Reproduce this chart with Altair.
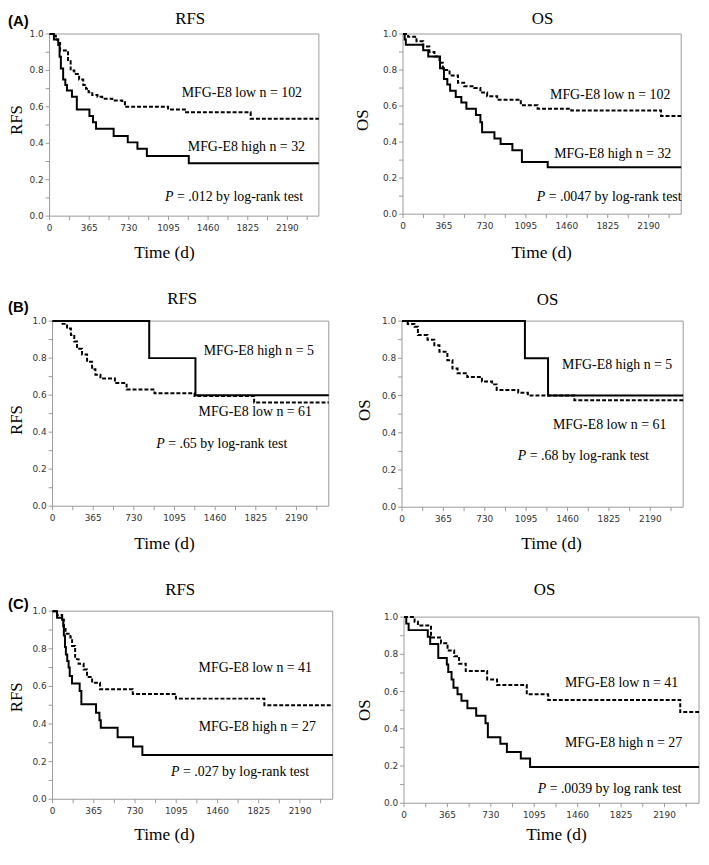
import altair as alt
import pandas as pd

# ---------------- data (day, survival fraction) ----------------
END_DAY = 2480

A_RFS_HIGH_T = [0, 40, 80, 92, 104, 125, 145, 160, 206, 251, 367, 400, 428, 590, 720, 809, 896, 1282]
A_RFS_HIGH_S = [1.0, 0.97, 0.94, 0.875, 0.81, 0.75, 0.72, 0.69, 0.655, 0.585, 0.55, 0.515, 0.48, 0.44, 0.405, 0.37, 0.33, 0.29]
A_RFS_LOW_T = [0, 29, 58, 78, 97, 170, 194, 228, 272, 310, 335, 359, 393, 441, 485, 577, 669, 694, 1091, 1246, 1852]
A_RFS_LOW_S = [1.0, 0.99, 0.97, 0.95, 0.91, 0.85, 0.80, 0.78, 0.75, 0.72, 0.70, 0.68, 0.665, 0.655, 0.645, 0.635, 0.625, 0.60, 0.585, 0.57, 0.535]

A_OS_HIGH_T = [0, 15, 25, 180, 225, 330, 365, 395, 420, 470, 520, 565, 650, 690, 705, 815, 870, 975, 1060, 1290]
A_OS_HIGH_S = [1.0, 0.97, 0.94, 0.91, 0.875, 0.81, 0.75, 0.72, 0.685, 0.65, 0.62, 0.585, 0.55, 0.51, 0.455, 0.42, 0.39, 0.355, 0.29, 0.26]
A_OS_LOW_T = [0, 45, 120, 180, 235, 280, 325, 355, 415, 490, 545, 635, 690, 750, 840, 1050, 1200, 1500, 2300]
A_OS_LOW_S = [1.0, 0.985, 0.96, 0.93, 0.90, 0.875, 0.84, 0.80, 0.77, 0.73, 0.71, 0.70, 0.675, 0.655, 0.635, 0.605, 0.585, 0.575, 0.545]

B_RFS_HIGH_T = [0, 868, 1283]
B_RFS_HIGH_S = [1.0, 0.8, 0.6]
B_RFS_LOW_T = [0, 90, 130, 165, 195, 220, 265, 310, 355, 385, 430, 560, 665, 915, 1275, 1810]
B_RFS_LOW_S = [1.0, 0.985, 0.96, 0.925, 0.89, 0.85, 0.82, 0.78, 0.74, 0.71, 0.69, 0.665, 0.63, 0.61, 0.595, 0.56]

B_OS_HIGH_T = [0, 1084, 1288]
B_OS_HIGH_S = [1.0, 0.8, 0.6]
B_OS_LOW_T = [0, 50, 110, 140, 225, 285, 330, 400, 445, 490, 575, 705, 795, 835, 1025, 1110, 1520]
B_OS_LOW_S = [1.0, 0.985, 0.97, 0.925, 0.90, 0.87, 0.835, 0.79, 0.745, 0.72, 0.70, 0.675, 0.66, 0.63, 0.615, 0.60, 0.575]

C_RFS_HIGH_T = [0, 40, 85, 95, 100, 110, 118, 130, 142, 152, 172, 240, 255, 385, 415, 427, 576, 713, 795]
C_RFS_HIGH_S = [1.0, 0.965, 0.955, 0.92, 0.87, 0.81, 0.77, 0.735, 0.70, 0.655, 0.615, 0.575, 0.505, 0.46, 0.42, 0.38, 0.33, 0.28, 0.235]
C_RFS_LOW_T = [0, 40, 85, 100, 115, 158, 173, 200, 230, 275, 305, 350, 420, 710, 1092, 1875]
C_RFS_LOW_S = [1.0, 0.98, 0.955, 0.905, 0.88, 0.86, 0.815, 0.745, 0.72, 0.69, 0.65, 0.62, 0.585, 0.56, 0.535, 0.50]

C_OS_HIGH_T = [0, 19, 39, 200, 220, 288, 360, 372, 400, 416, 450, 483, 533, 607, 685, 705, 810, 865, 982, 1060]
C_OS_HIGH_S = [1.0, 0.965, 0.93, 0.895, 0.855, 0.78, 0.745, 0.705, 0.665, 0.62, 0.585, 0.55, 0.51, 0.47, 0.43, 0.355, 0.32, 0.275, 0.24, 0.195]
C_OS_LOW_T = [0, 89, 117, 227, 311, 366, 422, 463, 519, 699, 782, 1032, 1212, 2322]
C_OS_LOW_S = [1.0, 0.975, 0.955, 0.89, 0.86, 0.82, 0.79, 0.75, 0.71, 0.665, 0.635, 0.585, 0.555, 0.49]

# axis ticks (all tick positions) and labelled ticks
X_TICKS = [0, 182.5, 365, 547.5, 730, 912.5, 1095, 1277.5, 1460, 1642.5, 1825, 2007.5, 2190, 2372.5]
X_LABELED = [0, 365, 730, 1095, 1460, 1825, 2190]
Y_TICKS = [0.0, 0.1, 0.2, 0.3, 0.4, 0.5, 0.6, 0.7, 0.8, 0.9, 1.0]
Y_LABELED = [0.0, 0.2, 0.4, 0.6, 0.8, 1.0]

PANEL_KEYS = ["A_RFS", "A_OS", "B_RFS", "B_OS", "C_RFS", "C_OS"]
PANEL_TITLES = ["RFS", "OS", "RFS", "OS", "RFS", "OS"]
LOW_LABELS = ["MFG-E8 low n = 102", "MFG-E8 low n = 102", "MFG-E8 low n = 61",
              "MFG-E8 low n = 61", "MFG-E8 low n = 41", "MFG-E8 low n = 41"]
HIGH_LABELS = ["MFG-E8 high n = 32", "MFG-E8 high n = 32", "MFG-E8 high n = 5",
               "MFG-E8 high n = 5", "MFG-E8 high n = 27", "MFG-E8 high n = 27"]
P_REST = ["= .012 by log-rank test", "= .0047 by log-rank test", "= .65 by log-rank test",
          "= .68 by log-rank test", "= .027 by log-rank test", "= .0039 by log rank test"]
ROW_LABELS = ["(A)", "(B)", "(C)"]
X_TITLE = "Time (d)"

SERIES = {
    "A_RFS": (A_RFS_HIGH_T, A_RFS_HIGH_S, A_RFS_LOW_T, A_RFS_LOW_S),
    "A_OS": (A_OS_HIGH_T, A_OS_HIGH_S, A_OS_LOW_T, A_OS_LOW_S),
    "B_RFS": (B_RFS_HIGH_T, B_RFS_HIGH_S, B_RFS_LOW_T, B_RFS_LOW_S),
    "B_OS": (B_OS_HIGH_T, B_OS_HIGH_S, B_OS_LOW_T, B_OS_LOW_S),
    "C_RFS": (C_RFS_HIGH_T, C_RFS_HIGH_S, C_RFS_LOW_T, C_RFS_LOW_S),
    "C_OS": (C_OS_HIGH_T, C_OS_HIGH_S, C_OS_LOW_T, C_OS_LOW_S),
}

# ---------------- layout (pixels in the view) ----------------
VIEW_W, VIEW_H = 700, 843
PANEL_RECTS = {  # x0, x1, y_top, y_bottom
    "A_RFS": (42, 314, 22, 206),
    "A_OS": (399, 680, 22, 204),
    "B_RFS": (45, 324, 312, 499),
    "B_OS": (398, 682, 312, 500),
    "C_RFS": (45, 328, 605, 795),
    "C_OS": (400, 698, 611, 799),
}
TITLE_POS = [(184, 7), (540, 7), (176, 290), (545, 291), (174, 584), (542, 584)]
YTITLE_POS = [(9, 109), (359, 109), (9, 412), (361, 402), (9, 692), (361, 705)]
XTITLE_POS = [(158, 243), (539, 243), (158, 537), (549, 537), (158, 831), (554, 831)]
LOW_POS = [(297, 82), (669, 84), (307, 404), (665, 417), (307, 662), (677, 678)]
HIGH_POS = [(300, 136), (670, 143), (309, 342), (671, 356), (311, 722), (681, 738)]
P_POS = [(158.7, 187), (534, 187), (149.7, 436), (515, 448), (164.7, 768), (535, 785)]
P_GAP = 12.1
ROWLABEL_POS = [(0, 9), (0, 298), (0, 598)]
TICK_LEN = 4

SERIF = "Liberation Serif"
FRAME_COLOR = "#9a9a9a"
TICK_LABEL_FONT = "DejaVu Sans"


def panel_chart(key):
    x0, x1, yt, yb = PANEL_RECTS[key]
    ht, hs, lt, ls = SERIES[key]
    xs = alt.Scale(domain=[0, END_DAY], range=[x0, x1], nice=False, zero=False)
    ys = alt.Scale(domain=[0, 1], range=[yb, yt], nice=False, zero=False)

    frame_df = pd.DataFrame({"x": [0], "x2": [END_DAY], "y": [0.0], "y2": [1.0]})
    frame = alt.Chart(frame_df).mark_rect(
        fill="white", fillOpacity=0, stroke=FRAME_COLOR, strokeWidth=1
    ).encode(
        x=alt.X("x:Q", scale=xs, axis=None), x2="x2:Q",
        y=alt.Y("y:Q", scale=ys, axis=None), y2="y2:Q",
    )

    xt = alt.Chart(pd.DataFrame({"v": X_TICKS})).mark_rule(
        color=FRAME_COLOR, strokeWidth=1
    ).encode(x=alt.X("v:Q", scale=xs, axis=None), y=alt.value(yb), y2=alt.value(yb + TICK_LEN))
    xl = alt.Chart(pd.DataFrame({"v": X_LABELED})).mark_text(
        font=TICK_LABEL_FONT, fontSize=9, color="#333333", align="center", baseline="middle"
    ).encode(x=alt.X("v:Q", scale=xs, axis=None), y=alt.value(yb + 12),
             text=alt.Text("v:Q", format="d"))
    yt_ = alt.Chart(pd.DataFrame({"v": Y_TICKS})).mark_rule(
        color=FRAME_COLOR, strokeWidth=1
    ).encode(y=alt.Y("v:Q", scale=ys, axis=None), x=alt.value(x0 - TICK_LEN), x2=alt.value(x0))
    yl = alt.Chart(pd.DataFrame({"v": Y_LABELED})).mark_text(
        font=TICK_LABEL_FONT, fontSize=9, color="#333333", align="right", baseline="middle"
    ).encode(y=alt.Y("v:Q", scale=ys, axis=None), x=alt.value(x0 - 6),
             text=alt.Text("v:Q", format=".1f"))

    high_df = pd.DataFrame({"day": ht + [END_DAY], "surv": hs + [hs[-1]]})
    low_df = pd.DataFrame({"day": lt + [END_DAY], "surv": ls + [ls[-1]]})
    low = alt.Chart(low_df).mark_line(
        interpolate="step-after", color="black", strokeWidth=2, strokeDash=[4, 2]
    ).encode(x=alt.X("day:Q", scale=xs, axis=None), y=alt.Y("surv:Q", scale=ys, axis=None))
    high = alt.Chart(high_df).mark_line(
        interpolate="step-after", color="black", strokeWidth=2
    ).encode(x=alt.X("day:Q", scale=xs, axis=None), y=alt.Y("surv:Q", scale=ys, axis=None))
    return alt.layer(frame, xt, xl, yt_, yl, low, high)


def text_layer(texts, positions, **mark_kw):
    df = pd.DataFrame({"t": texts,
                       "px": [p[0] for p in positions],
                       "py": [p[1] for p in positions]})
    return alt.Chart(df).mark_text(baseline="middle", color="black", **mark_kw).encode(
        x=alt.X("px:Q", scale=None), y=alt.Y("py:Q", scale=None), text="t:N")


panels = [panel_chart(k) for k in PANEL_KEYS]

texts = [
    text_layer(ROW_LABELS, ROWLABEL_POS, align="left", font="Liberation Sans",
               fontWeight="bold", fontSize=15),
    text_layer(PANEL_TITLES, TITLE_POS, align="center", font=SERIF, fontSize=17),
    text_layer(PANEL_TITLES, YTITLE_POS, align="center", font=SERIF, fontSize=17, angle=270),
    text_layer([X_TITLE] * 6, XTITLE_POS, align="center", font=SERIF, fontSize=17.5),
    text_layer(LOW_LABELS, LOW_POS, align="right", font=SERIF, fontSize=14),
    text_layer(HIGH_LABELS, HIGH_POS, align="right", font=SERIF, fontSize=14),
    text_layer(["P"] * 6, P_POS, align="left", font=SERIF, fontSize=14, fontStyle="italic"),
    text_layer(P_REST, [(p[0] + P_GAP, p[1]) for p in P_POS], align="left", font=SERIF, fontSize=14),
]

chart = alt.layer(*panels, *texts).resolve_scale(
    x="independent", y="independent"
).properties(
    width=VIEW_W, height=VIEW_H, padding=0,
    autosize=alt.AutoSizeParams(type="none"),
).configure_view(
    strokeWidth=0
)

chart.save("out.html", embed_options={"renderer": "svg", "actions": False})
